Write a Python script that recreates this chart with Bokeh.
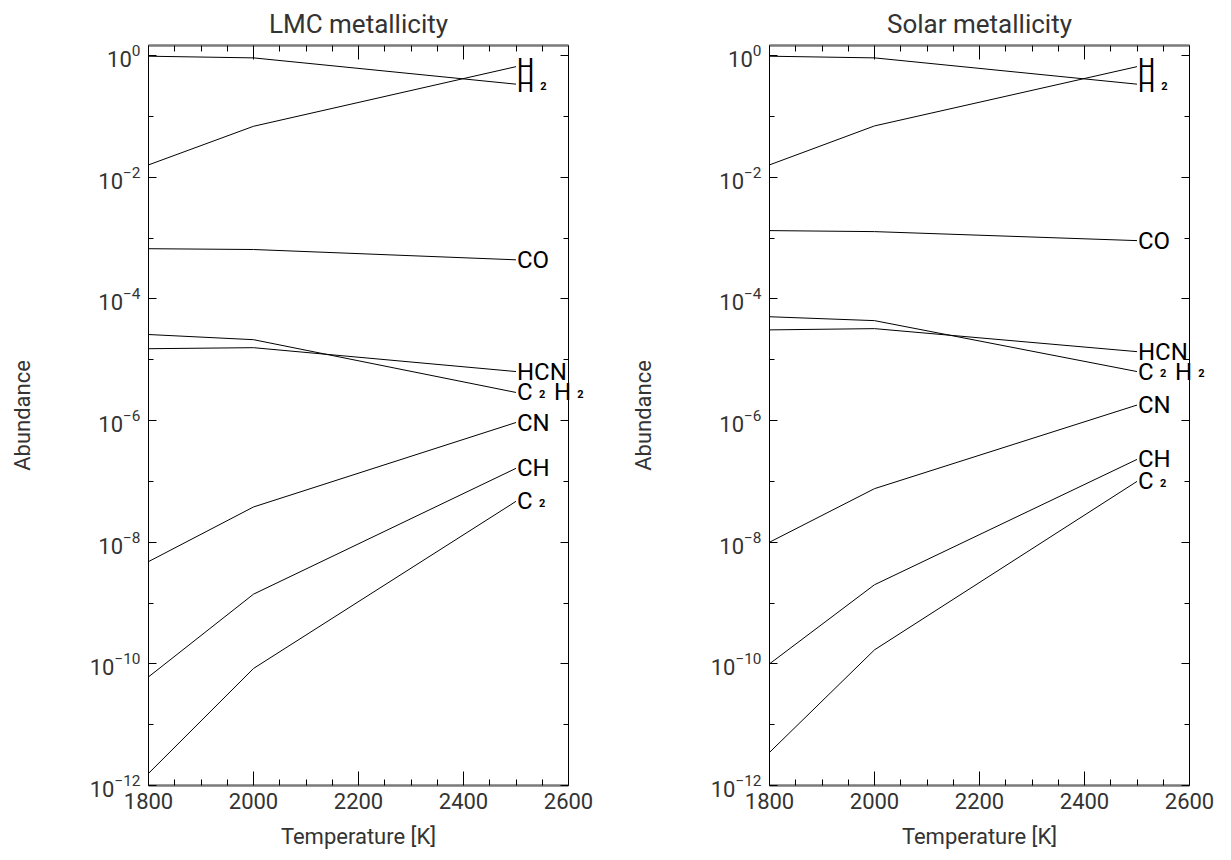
from bokeh.plotting import figure
from bokeh.layouts import row
from bokeh.models import Range1d, LogAxis, LinearAxis, FixedTicker, Label
from bokeh.embed import file_html
from bokeh.resources import INLINE

# ---------------- data ----------------
temperature = [1800, 2000, 2500]

x_ticks = [1800, 2000, 2200, 2400, 2600]
x_minor_ticks = [1850, 1900, 1950, 2050, 2100, 2150, 2250, 2300, 2350,
                 2450, 2500, 2550]
y_ticks = [1e-12, 1e-10, 1e-8, 1e-6, 1e-4, 1e-2, 1e0]
y_minor_ticks = [1e-11, 1e-9, 1e-7, 1e-5, 1e-3, 1e-1]

species = ["H", "H2", "CO", "HCN", "C2H2", "CN", "CH", "C2"]
# label pieces: (text, is_subscript)
label_parts = {
    "H": [("H", False)],
    "H2": [("H", False), ("2", True)],
    "CO": [("CO", False)],
    "HCN": [("HCN", False)],
    "C2H2": [("C", False), ("2", True), ("H", False), ("2", True)],
    "CN": [("CN", False)],
    "CH": [("CH", False)],
    "C2": [("C", False), ("2", True)],
}

lmc_H = [1.6e-2, 6.9e-2, 6.6e-1]
lmc_H2 = [0.98, 0.92, 0.34]
lmc_CO = [6.7e-4, 6.5e-4, 4.4e-4]
lmc_HCN = [1.52e-5, 1.58e-5, 6.4e-6]
lmc_C2H2 = [2.6e-5, 2.14e-5, 2.9e-6]
lmc_CN = [4.8e-9, 3.8e-8, 9.3e-7]
lmc_CH = [6.1e-11, 1.4e-9, 1.64e-7]
lmc_C2 = [1.58e-12, 8.4e-11, 4.7e-8]

sol_H = [1.6e-2, 7.0e-2, 6.6e-1]
sol_H2 = [0.98, 0.92, 0.34]
sol_CO = [1.33e-3, 1.28e-3, 9.1e-4]
sol_HCN = [3.1e-5, 3.25e-5, 1.36e-5]
sol_C2H2 = [5.1e-5, 4.4e-5, 6.4e-6]
sol_CN = [1.0e-8, 7.6e-8, 1.8e-6]
sol_CH = [1.0e-10, 2.0e-9, 2.3e-7]
sol_C2 = [3.5e-12, 1.7e-10, 1.0e-7]

lmc = dict(H=lmc_H, H2=lmc_H2, CO=lmc_CO, HCN=lmc_HCN, C2H2=lmc_C2H2,
           CN=lmc_CN, CH=lmc_CH, C2=lmc_C2)
solar = dict(H=sol_H, H2=sol_H2, CO=sol_CO, HCN=sol_HCN, C2H2=sol_C2H2,
             CN=sol_CN, CH=sol_CH, C2=sol_C2)

# ---------------- styling ----------------
FONT = "Roboto"
AXIS_TEXT = "#333333"
char_w = {"H": 16.7, "C": 15.6, "N": 16.7, "O": 16.1}
FRAME_W = 420
X_MIN, X_MAX = 1800, 2600


def make_panel(title, data, right_border):
    p = figure(frame_width=FRAME_W, frame_height=740,
               x_range=Range1d(X_MIN, X_MAX), y_range=Range1d(1e-12, 1.47),
               y_axis_type="log", output_backend="svg", toolbar_location=None,
               min_border_left=148, min_border_right=right_border,
               min_border_top=45, min_border_bottom=66,
               background_fill_color="white", border_fill_color="white")
    p.outline_line_color = None
    p.xgrid.visible = False
    p.ygrid.visible = False

    p.title.text = title
    p.title.align = "center"
    p.title.text_font = FONT
    p.title.text_font_size = "26px"
    p.title.text_font_style = "normal"
    p.title.text_color = AXIS_TEXT
    p.title.standoff = 13

    xt = FixedTicker(ticks=x_ticks, minor_ticks=x_minor_ticks)
    yt = FixedTicker(ticks=y_ticks, minor_ticks=y_minor_ticks)

    xa = p.xaxis[0]
    xa.ticker = xt
    xa.axis_label = "Temperature [K]"
    ya = p.yaxis[0]
    ya.ticker = yt
    ya.axis_label = "Abundance"

    top = LinearAxis(ticker=xt, major_label_text_font_size="1px",
                     major_label_text_alpha=0, major_label_standoff=0)
    right = LogAxis(ticker=yt, major_label_text_font_size="1px",
                    major_label_text_alpha=0, major_label_standoff=0)
    p.add_layout(top, "above")
    p.add_layout(right, "right")

    for ax in (xa, top):
        ax.major_tick_in = 14
        ax.major_tick_out = 0
        ax.minor_tick_in = 6
        ax.minor_tick_out = 0
        ax.axis_line_color = "#7a7a7a"
        ax.axis_line_width = 2.5
    for ax in (ya, right):
        ax.major_tick_in = 8
        ax.major_tick_out = 0
        ax.minor_tick_in = 5
        ax.minor_tick_out = 0
        ax.axis_line_color = "black"
        ax.axis_line_width = 1
    for ax in (xa, ya, top, right):
        ax.major_tick_line_color = "black"
        ax.minor_tick_line_color = "black"
        ax.major_tick_line_width = 1
        ax.minor_tick_line_width = 1
    for ax in (xa, ya):
        ax.major_label_text_font = FONT
        ax.major_label_text_font_size = "22px"
        ax.major_label_text_color = AXIS_TEXT
        ax.axis_label_text_font = FONT
        ax.axis_label_text_font_size = "22px"
        ax.axis_label_text_font_style = "normal"
        ax.axis_label_text_color = AXIS_TEXT
    xa.major_label_standoff = 7
    xa.axis_label_standoff = 12
    ya.major_label_standoff = 8
    ya.axis_label_standoff = 52

    # pixels from the label anchor to the right edge of the frame
    room = (X_MAX - temperature[-1]) * FRAME_W / (X_MAX - X_MIN)

    for sp in species:
        vals = data[sp]
        p.line(temperature, vals, line_color="black", line_width=1)
        cursor = 1.0
        for txt, is_sub in label_parts[sp]:
            if is_sub:
                sx = cursor + 6.5
                lab = Label(x=temperature[-1], y=vals[-1], text=txt,
                            x_offset=sx, y_offset=-1.5, level="overlay",
                            text_font=FONT, text_font_size="11px",
                            text_font_style="bold", text_color="black",
                            text_align="left", text_baseline="alphabetic")
                end = sx + 7
                cursor = sx + 15
            else:
                lab = Label(x=temperature[-1], y=vals[-1], text=txt,
                            x_offset=cursor, y_offset=0, level="overlay",
                            text_font=FONT, text_font_size="24px",
                            text_color="black", text_align="left",
                            text_baseline="alphabetic")
                cursor += sum(char_w.get(c, 16) for c in txt)
                end = cursor
            # pieces reaching past the frame go into the side panel (not clipped)
            p.add_layout(lab, "right" if end > room + 2 else "center")
    return p


p1 = make_panel("LMC metallicity", lmc, 53)
p2 = make_panel("Solar metallicity", solar, 30)
layout = row(p1, p2)

open("out.html", "w").write(file_html(layout, INLINE))
